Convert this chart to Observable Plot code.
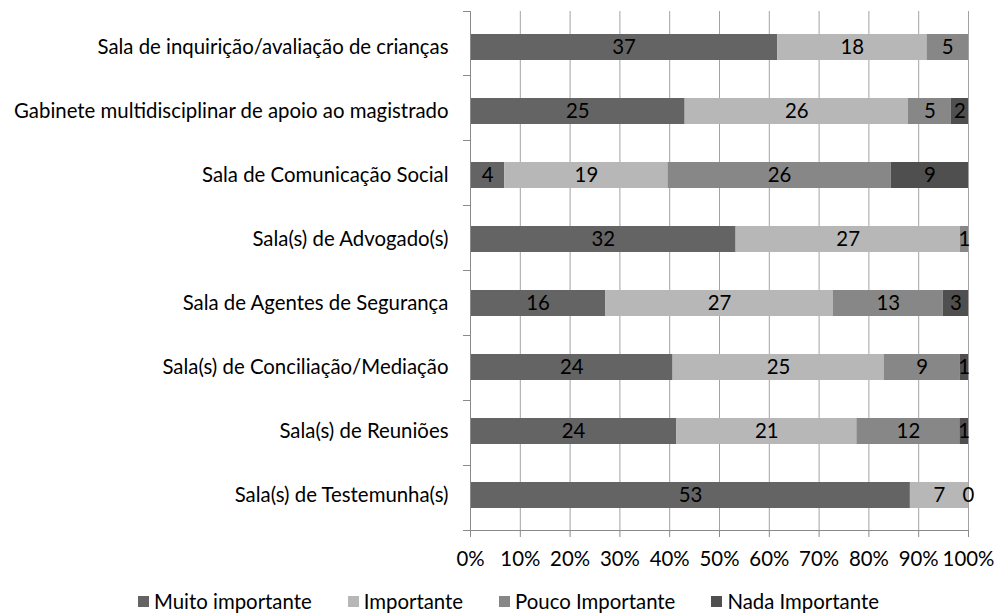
<!DOCTYPE html>
<html>
<head>
<meta charset="utf-8">
<script src="https://cdn.jsdelivr.net/npm/d3@7"></script>
<script src="https://cdn.jsdelivr.net/npm/@observablehq/plot@0.6"></script>
<style>
  html, body { margin: 0; padding: 0; background: #fff; }
  #wrap { position: relative; width: 994px; height: 613px; overflow: hidden; }
  #legend { position: absolute; left: 138px; top: 591px; height: 20px; line-height: 20px; display: flex; align-items: center; white-space: nowrap; color: #000; }
  .item { display: flex; align-items: center; margin-right: 36px; }
  .sw { width: 11px; height: 11px; margin-right: 5px; }
</style>
</head>
<body>
<div id="wrap"><div id="chart"></div><div id="legend"></div></div>
<script>
const categories = [
  "Sala de inquirição/avaliação de crianças",
  "Gabinete multidisciplinar de apoio ao magistrado",
  "Sala de Comunicação Social",
  "Sala(s) de Advogado(s)",
  "Sala de Agentes de Segurança",
  "Sala(s) de Conciliação/Mediação",
  "Sala(s) de Reuniões",
  "Sala(s) de Testemunha(s)"
];
const seriesNames = ["Muito importante", "Importante", "Pouco Importante", "Nada Importante"];
const muito      = [37, 25, 4, 32, 16, 24, 24, 53];
const importante = [18, 26, 19, 27, 27, 25, 21, 7];
const pouco      = [5, 5, 26, 1, 13, 9, 12, 0];
const nada       = [null, 2, 9, null, 3, 1, 1, null];
const colors = ["#646464", "#b7b7b7", "#878787", "#4f4f4f"];
const tickValues = [0, 0.1, 0.2, 0.3, 0.4, 0.5, 0.6, 0.7, 0.8, 0.9, 1];

const seriesValues = [muito, importante, pouco, nada];
const data = [];
categories.forEach((c, i) => {
  seriesNames.forEach((s, j) => {
    const v = seriesValues[j][i];
    if (v !== null && v !== undefined) data.push({category: c, series: s, value: v});
  });
});

const fontFamily = "Lato, 'Open Sans', sans-serif";
const ctx = document.createElement("canvas").getContext("2d");
ctx.font = "20px " + fontFamily;
const w = ctx.measureText(categories[1]).width;
const fs = Math.max(14, Math.min(22, 20 * 435 / w));

const width = 994, height = 575;
const chart = Plot.plot({
  width, height,
  marginTop: 11, marginBottom: 45, marginLeft: 470, marginRight: 26,
  style: {fontFamily, fontSize: fs + "px", color: "#000", background: "#fff", overflow: "visible"},
  x: {domain: [0, 1]},
  y: {domain: categories, paddingInner: 0.6, paddingOuter: 0.3},
  color: {domain: seriesNames, range: colors},
  marks: [
    Plot.gridX(tickValues.filter(d => d > 0), {stroke: "#a3a3a3", strokeOpacity: 1}),
    Plot.barX(data, Plot.stackX({x: "value", y: "category", fill: "series", offset: "normalize", order: seriesNames})),
    Plot.text(data, Plot.stackX({x: "value", y: "category", z: "series", text: d => String(d.value), offset: "normalize", order: seriesNames, fill: "#000", fontSize: fs})),
    Plot.axisY({tickSize: 0, tickPadding: 22, fontSize: fs, label: null}),
    Plot.axisX({ticks: tickValues, tickFormat: d3.format(".0%"), tickSize: 7, tickPadding: 14, stroke: "#8a8a8a", fontSize: fs, label: null})
  ]
});
document.getElementById("chart").appendChild(chart);

const xs = chart.scale("x"), ys = chart.scale("y");
const svg = d3.select(chart.tagName.toLowerCase() === "svg" ? chart : chart.querySelector("svg"));
const x0 = xs.apply(0), x1 = xs.apply(1);
const yTop = ys.range[0], yBot = ys.range[1];
const step = (yBot - yTop) / categories.length;
const g = svg.append("g").attr("stroke", "#8a8a8a").attr("shape-rendering", "crispEdges");
g.append("line").attr("x1", x0).attr("x2", x0).attr("y1", yTop).attr("y2", yBot + 7);
g.append("line").attr("x1", x0 - 7).attr("x2", x1).attr("y1", yBot).attr("y2", yBot);
for (let i = 0; i < categories.length; i++) {
  const yy = yTop + i * step;
  g.append("line").attr("x1", x0 - 7).attr("x2", x0).attr("y1", yy).attr("y2", yy);
}

const legend = document.getElementById("legend");
legend.style.fontFamily = fontFamily;
legend.style.fontSize = fs + "px";
seriesNames.forEach((s, i) => {
  const it = document.createElement("div");
  it.className = "item";
  const sw = document.createElement("div");
  sw.className = "sw";
  sw.style.background = colors[i];
  const t = document.createElement("span");
  t.textContent = s;
  it.appendChild(sw); it.appendChild(t);
  legend.appendChild(it);
});
</script>
</body>
</html>
